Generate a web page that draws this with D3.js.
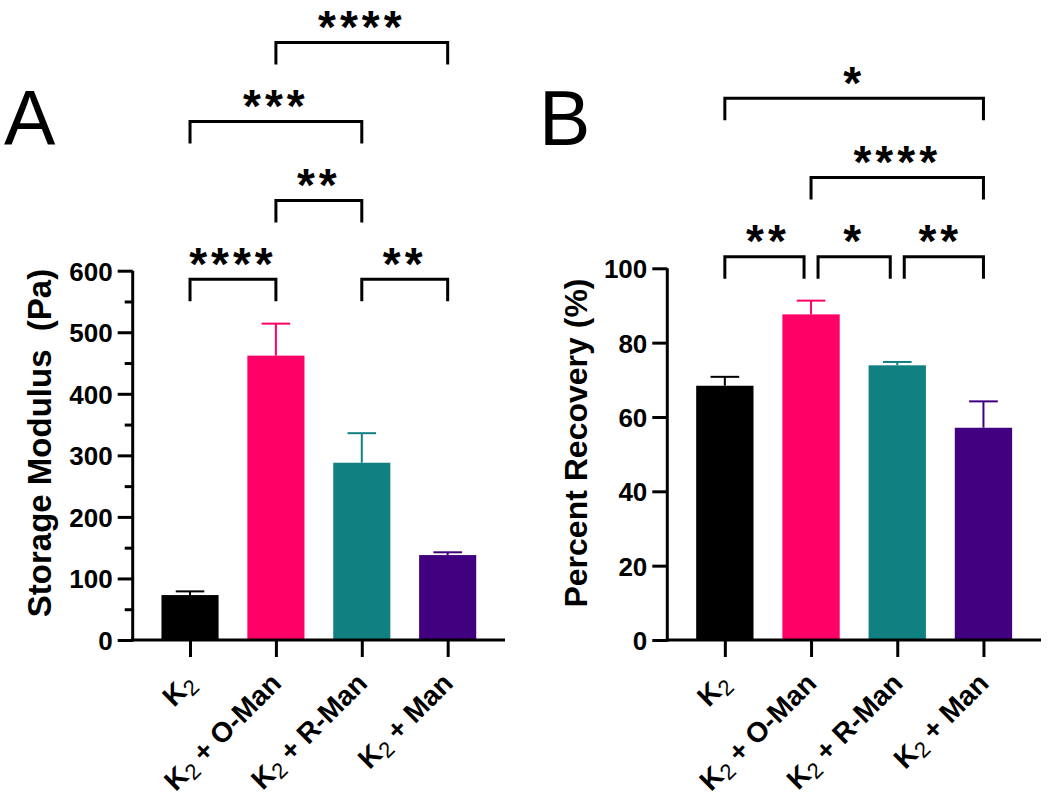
<!DOCTYPE html>
<html>
<head>
<meta charset="utf-8">
<script src="https://cdn.jsdelivr.net/npm/d3@7"></script>
<style>
  html, body { margin: 0; padding: 0; background: #fff; }
  svg { display: block; }
  text { font-family: "Liberation Sans", Arial, Helvetica, sans-serif; fill: #000; }
</style>
</head>
<body>
<svg id="chart" width="1050" height="795"></svg>
<script>
// ---------------- data ----------------
const categories = ["K2", "K2 + O-Man", "K2 + R-Man", "K2 + Man"];
const barColors = ["#000000", "#ff0066", "#118080", "#400080"];

const storageMean = [73, 462, 288, 138];
const storageErr  = [6, 52, 48, 4.5];
const storageTicks = [0, 100, 200, 300, 400, 500, 600];
const storageMinorTicks = [50, 150, 250, 350, 450, 550];

const recoveryMean = [68.4, 87.6, 73.9, 57.1];
const recoveryErr  = [2.4, 3.7, 0.9, 7.1];
const recoveryTicks = [0, 20, 40, 60, 80, 100];

// [from index, to index, label, level]
const storageSig = [[0, 1, "****", 0], [2, 3, "**", 0], [1, 2, "**", 1], [0, 2, "***", 2], [1, 3, "****", 3]];
const recoverySig = [[0, 1, "**", 0], [1, 2, "*", 0], [2, 3, "**", 0], [1, 3, "****", 1], [0, 3, "*", 2]];

// ---------------- drawing ----------------
const svg = d3.select("#chart");

function panel(opts) {
  const g = svg.append("g");
  const x = d3.scaleBand().domain(d3.range(categories.length))
    .range([opts.x0, opts.x1]).padding(0.335);
  const y = d3.scaleLinear().domain([0, opts.max]).range([opts.yBottom, opts.yTop]);

  // bars
  g.selectAll("rect.bar").data(opts.mean).join("rect")
    .attr("x", (d, i) => x(i)).attr("width", x.bandwidth())
    .attr("y", d => y(d)).attr("height", d => y(0) - y(d))
    .attr("fill", (d, i) => barColors[i]);

  // error bars (upper only)
  const capW = x.bandwidth() / 2;
  opts.mean.forEach((m, i) => {
    const cx = x(i) + x.bandwidth() / 2;
    const top = y(m + opts.err[i]);
    g.append("line").attr("x1", cx).attr("x2", cx).attr("y1", y(m)).attr("y2", top)
      .attr("stroke", barColors[i]).attr("stroke-width", 2);
    g.append("line").attr("x1", cx - capW / 2).attr("x2", cx + capW / 2)
      .attr("y1", top).attr("y2", top)
      .attr("stroke", barColors[i]).attr("stroke-width", 2);
  });

  // y axis
  const yAxis = d3.axisLeft(y).tickValues(opts.ticks).tickSize(15).tickPadding(5).tickSizeOuter(0);
  const ya = g.append("g").attr("transform", `translate(${opts.x0},0)`).call(yAxis);
  ya.select(".domain").attr("stroke", "#000").attr("stroke-width", 3)
    .attr("d", `M0,${opts.yBottom + 1.5}V${opts.yTop}`);
  ya.selectAll(".tick line").attr("stroke", "#000").attr("stroke-width", 3);
  ya.selectAll(".tick text").style("font-size", "26px").style("font-weight", "bold")
    .attr("dy", "0.36em");
  if (opts.minor) {
    g.append("g").attr("transform", `translate(${opts.x0},0)`)
      .call(d3.axisLeft(y).tickValues(opts.minor).tickSize(8).tickFormat("").tickSizeOuter(0))
      .call(s => s.select(".domain").remove())
      .selectAll(".tick line").attr("stroke", "#000").attr("stroke-width", 3);
  }

  // x axis
  const xc = d3.scalePoint().domain(d3.range(categories.length))
    .range([x(0) + x.bandwidth() / 2, x(categories.length - 1) + x.bandwidth() / 2]);
  const xa = g.append("g").attr("transform", `translate(0,${opts.yBottom})`)
    .call(d3.axisBottom(xc).tickSize(17).tickFormat("").tickSizeOuter(0));
  xa.select(".domain").attr("stroke", "#000").attr("stroke-width", 3)
    .attr("d", `M${opts.x0 - 1.5},0H${opts.x1}`);
  xa.selectAll(".tick line").attr("stroke", "#000").attr("stroke-width", 3);

  // x labels rotated
  categories.forEach((c, i) => {
    const t = g.append("text")
      .attr("transform", `translate(${xc(i) + 7},${opts.yBottom + 45}) rotate(-45)`)
      .attr("text-anchor", "end").style("font-size", "28px").style("font-weight", "bold");
    t.append("tspan").text("K");
    t.append("tspan").text("2").style("font-weight", "normal").style("font-size", "22px")
      .attr("dy", "5");
    const rest = c.slice(2);
    if (rest) t.append("tspan").text(rest).attr("dy", "-5").style("white-space", "pre");
  });

  // y title
  g.append("text")
    .attr("transform", `translate(${opts.titleX},${opts.titleY}) rotate(-90)`)
    .attr("text-anchor", "middle").style("font-size", opts.titleSize).style("font-weight", "bold")
    .style("white-space", "pre")
    .text(opts.title);

  // panel letter
  g.append("text").attr("x", opts.letterX).attr("y", 145)
    .style("font-size", "77px").text(opts.letter);

  // significance brackets
  const centers = d3.range(categories.length).map(i => xc(i));
  opts.sig.forEach(([a, b, lab, lev]) => {
    const ly = opts.sigBase - lev * opts.sigStep;
    const shared = (idx, side) => opts.sig.some(s => s[3] === lev &&
      (side === "left" ? s[1] === idx : s[0] === idx) && !(s[0] === a && s[1] === b));
    const xa0 = centers[a] + (shared(a, "left") ? 7 : 0);
    const xb0 = centers[b] - (shared(b, "right") ? 7 : 0);
    g.append("path")
      .attr("d", `M${xa0},${ly + 22}V${ly}H${xb0}V${ly + 22}`)
      .attr("fill", "none").attr("stroke", "#000").attr("stroke-width", 3);
    g.append("text").attr("x", (centers[a] + centers[b]) / 2).attr("y", ly + 0.5)
      .attr("text-anchor", "middle").style("font-size", "46px")
      .style("font-weight", "bold")
      .style("letter-spacing", "4px")
      .text(lab);
  });
}

panel({
  x0: 132.7, x1: 505, yBottom: 640, yTop: 270.7, max: 600,
  mean: storageMean, err: storageErr, ticks: storageTicks, minor: storageMinorTicks,
  title: "Storage Modulus  (Pa)", titleX: 51, titleY: 443, titleSize: "33px",
  letter: "A", letterX: 4, sig: storageSig, sigBase: 279.3, sigStep: 78.9
});

panel({
  x0: 667.3, x1: 1041, yBottom: 640, yTop: 268.3, max: 100,
  mean: recoveryMean, err: recoveryErr, ticks: recoveryTicks, minor: null,
  title: "Percent Recovery (%)", titleX: 587, titleY: 443, titleSize: "32px",
  letter: "B", letterX: 539, sig: recoverySig, sigBase: 256.7, sigStep: 79.2
});
</script>
</body>
</html>
